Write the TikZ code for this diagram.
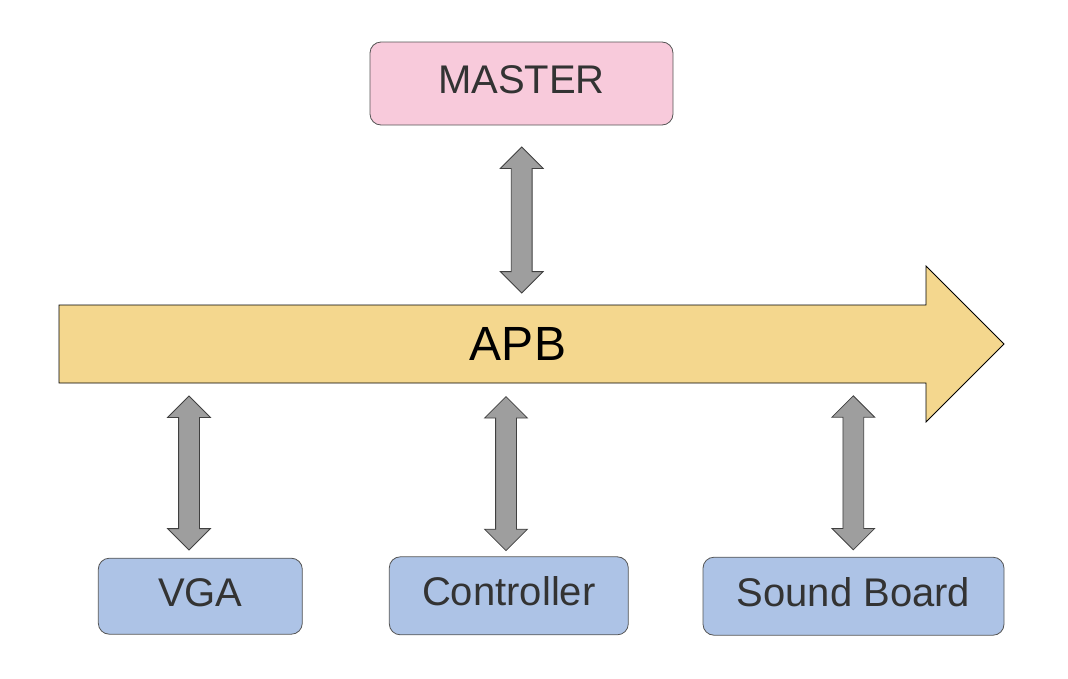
\documentclass[tikz,border=0pt]{standalone}
\usepackage{fontspec}
\setmainfont{Liberation Sans}
\usepackage{xcolor}
\definecolor{masterpink}{HTML}{F8CADB}
\definecolor{slaveblue}{HTML}{ADC3E6}
\definecolor{busyellow}{HTML}{F4D78E}
\definecolor{linkgrey}{HTML}{9E9E9E}
\definecolor{textgrey}{HTML}{333333}
\definecolor{edgegrey}{HTML}{555555}
\usepackage{tikz}
\usetikzlibrary{shapes.arrows, positioning, calc}

\begin{document}
\begin{tikzpicture}[x=1pt, y=-1pt,
    box/.style={draw=edgegrey, line width=0.8pt, rounded corners=11pt, text=textgrey,
        font=\fontsize{40}{48}\selectfont, text height=29pt, text depth=9pt},
    link/.style={shape=double arrow, rotate=90, draw=black!75, fill=linkgrey, line width=0.8pt,
        minimum height=154pt, minimum width=0pt, inner xsep=0pt, inner ysep=10pt,
        double arrow head extend=11pt}]
    \useasboundingbox (0,0) rectangle (1068,678);

    % the bus
    \draw[fill=busyellow, line width=0.8pt] (59,305) -- (926,305) -- (926,266) -- (1004,344)
        -- (926,422) -- (926,383) -- (59,383) -- cycle;
    \node[font=\fontsize{48}{56}\selectfont] (apb) at (518,343.5) {APB};

    % master and slaves
    \node[box, fill=masterpink, minimum width=303pt, minimum height=83pt] (master) at (521.5,83.5) {MASTER};
    \node[box, fill=slaveblue, minimum width=204pt, minimum height=76pt] (vga) at (200.3,596.2) {VGA};
    \node[box, fill=slaveblue, minimum width=239pt, minimum height=78pt] (ctrl) at (508.8,595.8) {Controller};
    \node[box, fill=slaveblue, minimum width=301pt, minimum height=78pt] (sound) at (853.5,596.2) {Sound Board};

    % links to the bus
    \node[link, minimum height=146pt] (masterlink) at (521.7,220) {};
    \node[link] (vgalink) at (189,473) {};
    \node[link] (ctrllink) at (506,473.6) {};
    \node[link] (soundlink) at (853.3,472.8) {};
\end{tikzpicture}
\end{document}
